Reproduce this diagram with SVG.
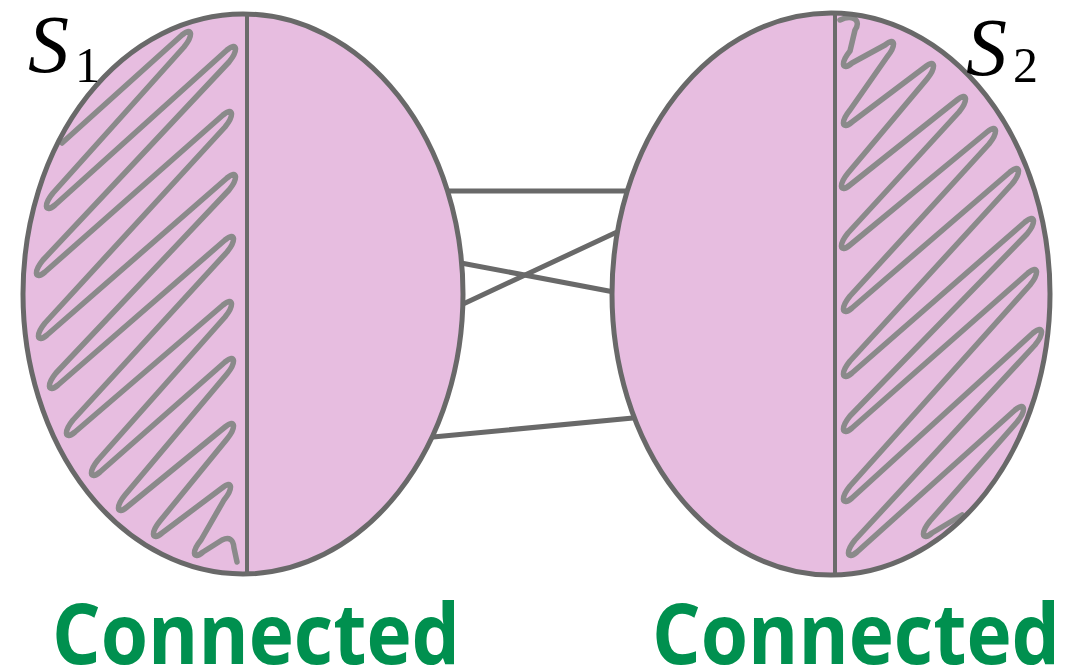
<svg xmlns="http://www.w3.org/2000/svg" width="1083" height="670" viewBox="0 0 1083 670">
  <style>
    .edge { stroke: #696969; stroke-width: 5; stroke-linecap: round; fill: none; }
    .blob { fill: #e7bde0; stroke: none; }
    .rim { fill: none; stroke: #696969; stroke-width: 5; }
    .split { stroke: #6b6b6b; stroke-width: 4; }
    .hatch { fill: none; stroke: #8a8a8a; stroke-width: 5.5; stroke-linecap: round; stroke-linejoin: round; }
    .math { font-family: "Liberation Serif", "DejaVu Serif", serif; fill: #000; }
    .caption { font-family: "Open Sans", "Noto Sans", sans-serif; font-weight: bold; font-size: 84px; fill: #00904f; }
  </style>

  <!-- edges between the two sets -->
  <g id="connectors">
    <line class="edge" x1="446" y1="191" x2="629" y2="191"/>
    <line class="edge" x1="461" y1="263" x2="614" y2="292"/>
    <line class="edge" x1="461" y1="305" x2="617" y2="232"/>
    <line class="edge" x1="433" y1="437" x2="633" y2="418"/>
  </g>

  <!-- set S1 -->
  <g id="s1">
    <ellipse class="blob" cx="243" cy="294" rx="220" ry="280"/>
    <path class="hatch" d="M 62,143
      L 182,35 C 193,26 193,36 184,47
      L 53,193 C 44,204 44,214 55,205
      L 227,50 C 238,41 238,51 229,62
      L 43,260 C 34,271 34,281 45,272
      L 223,115 C 234,106 234,116 225,127
      L 45,323 C 36,334 36,344 47,335
      L 227,178 C 238,169 238,179 229,190
      L 56,373 C 47,384 47,394 58,385
      L 225,240 C 236,231 236,241 227,252
      L 73,420 C 64,431 64,441 75,432
      L 223,305 C 234,296 234,306 225,317
      L 98,460 C 89,471 89,481 100,472
      L 225,362 C 236,353 236,363 227,374
      L 125,495 C 116,506 116,516 127,507
      L 225,427 C 236,418 236,428 227,439
      L 160,521 C 151,532 151,542 162,533
      L 222,488 C 233,479 233,489 224,500
      L 201,540 C 192,551 192,561 203,552
      L 222,540 Q 233,535 234,548 L 237,562"/>
    <ellipse class="rim" cx="243" cy="294" rx="220" ry="280"/>
    <line class="split" x1="247" y1="14" x2="247" y2="575"/>
    <text class="math" x="28" y="72" font-size="82" font-style="italic">S</text>
    <text class="math" x="75" y="82" font-size="50">1</text>
  </g>

  <!-- set S2 -->
  <g id="s2">
    <ellipse class="blob" cx="831" cy="294" rx="219" ry="281"/>
    <path class="hatch" d="M 840,20 C 852,14 862,20 855,30
      L 850,51 C 841,62 841,72 852,63
      L 885,45 C 896,36 896,46 887,57
      L 850,110 C 841,121 841,131 852,122
      L 925,67 C 936,58 936,68 927,79
      L 848,173 C 839,184 839,194 850,185
      L 957,100 C 968,91 968,101 959,112
      L 848,233 C 839,244 839,254 850,245
      L 987,132 C 998,123 998,133 989,144
      L 850,296 C 841,307 841,317 852,308
      L 1010,172 C 1021,163 1021,173 1012,184
      L 850,361 C 841,372 841,382 852,373
      L 1025,222 C 1036,213 1036,223 1027,234
      L 850,416 C 841,427 841,437 852,428
      L 1028,273 C 1039,264 1039,274 1030,285
      L 850,486 C 841,497 841,507 852,498
      L 1033,333 C 1044,324 1044,334 1035,345
      L 855,540 C 846,551 846,561 857,552
      L 1015,410 C 1026,401 1026,411 1017,422
      L 930,521 C 921,532 921,542 932,533
      L 962,515"/>
    <ellipse class="rim" cx="831" cy="294" rx="219" ry="281"/>
    <line class="split" x1="835" y1="13" x2="835" y2="575"/>
    <text class="math" x="966" y="75" font-size="82" font-style="italic">S</text>
    <text class="math" x="1013" y="82" font-size="50">2</text>
  </g>

  <!-- captions -->
  <g id="labels">
    <text class="caption" x="52" y="664" textLength="408" lengthAdjust="spacingAndGlyphs">Connected</text>
    <text class="caption" x="652" y="664" textLength="408" lengthAdjust="spacingAndGlyphs">Connected</text>
  </g>
</svg>
